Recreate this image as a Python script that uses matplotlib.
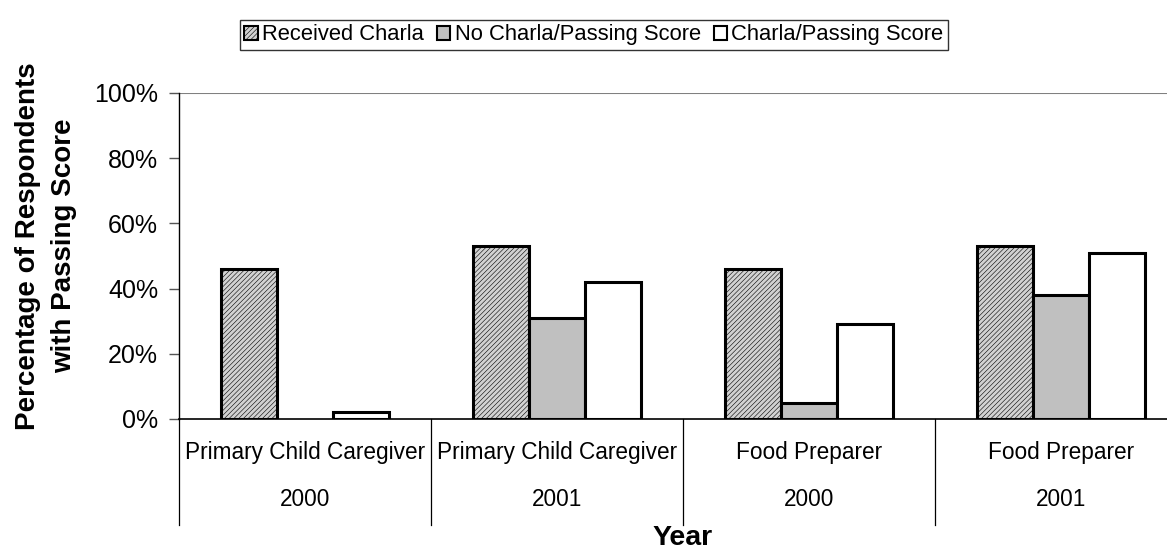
import matplotlib.pyplot as plt
import matplotlib.patches as mpatches
import matplotlib.transforms as mtransforms

plt.rcParams['font.family'] = ['Liberation Sans', 'DejaVu Sans']
plt.rcParams['hatch.color'] = '#a4a4a4'
plt.rcParams['hatch.linewidth'] = 0.4

roles = ['Primary Child Caregiver', 'Primary Child Caregiver', 'Food Preparer', 'Food Preparer']
years = ['2000', '2001', '2000', '2001']
series_names = ['Received Charla', 'No Charla/Passing Score', 'Charla/Passing Score']
received = [0.46, 0.53, 0.46, 0.53]
no_charla_pass = [0.0, 0.31, 0.05, 0.38]
charla_pass = [0.02, 0.42, 0.29, 0.51]

fig = plt.figure(figsize=(11.67, 5.52), dpi=100)
ax = fig.add_axes([179 / 1167, 1 - 419 / 552, 1008 / 1167, 326 / 552])

w = 0.222
x = list(range(len(roles)))
styles = [
    dict(facecolor='#d2d2d2', hatch='///////'),
    dict(facecolor='#c0c0c0'),
    dict(facecolor='white'),
]
handles = []
for i, (vals, st) in enumerate(zip([received, no_charla_pass, charla_pass], styles)):
    xs = [xi + (i - 1) * w for xi in x]
    bars = ax.bar(xs, vals, width=w, edgecolor='black', linewidth=2.2, zorder=3, **st)
    for b, v in zip(bars, vals):
        if v <= 0:
            b.set_visible(False)
    handles.append(mpatches.Patch(edgecolor='black', linewidth=1.5, **st))

ax.set_xlim(-0.5, 3.5)
ax.set_ylim(0, 1.0)
ax.set_yticks([0, 0.2, 0.4, 0.6, 0.8, 1.0])
ax.set_yticklabels(['0%', '20%', '40%', '60%', '80%', '100%'], fontsize=18)
ax.tick_params(axis='y', length=7, width=1, color='#555555', pad=8)
ax.set_xticks([])
for s in ['top', 'right']:
    ax.spines[s].set_visible(False)
ax.spines['left'].set_linewidth(1.0)
ax.spines['bottom'].set_linewidth(1.2)
ax.axhline(1.0, color='#808080', linewidth=1.5, zorder=1)

# two-row category axis
trans = mtransforms.blended_transform_factory(ax.transData, ax.transAxes)
for sep in [-0.5, 0.5, 1.5, 2.5]:
    ax.plot([sep, sep], [0, -106 / 326], color='black', linewidth=0.9,
            transform=trans, clip_on=False)
for xi, r, yr in zip(x, roles, years):
    ax.text(xi, -34 / 326, r, transform=trans, ha='center', va='center', fontsize=16.3)
    ax.text(xi, -81 / 326, yr, transform=trans, ha='center', va='center', fontsize=16.3)

fig.text(683 / 1167, 1 - 538 / 552, 'Year', ha='center', va='center',
         fontsize=20.5, fontweight='bold')
fig.text(46 / 1167, 1 - 246 / 552, 'Percentage of Respondents\nwith Passing Score',
         ha='center', va='center', rotation=90, fontsize=20, fontweight='bold',
         linespacing=1.5)

leg = fig.legend(handles=handles, labels=series_names, loc='upper left',
                 bbox_to_anchor=(240 / 1167, 1 - 20 / 552), ncol=3, fontsize=15.8,
                 frameon=True, fancybox=False, edgecolor='black',
                 handlelength=0.6, handleheight=0.6, handletextpad=0.2,
                 columnspacing=0.6, borderpad=0.2, borderaxespad=0)
leg.get_frame().set_linewidth(1.0)

fig.savefig('out.png', dpi=100)
